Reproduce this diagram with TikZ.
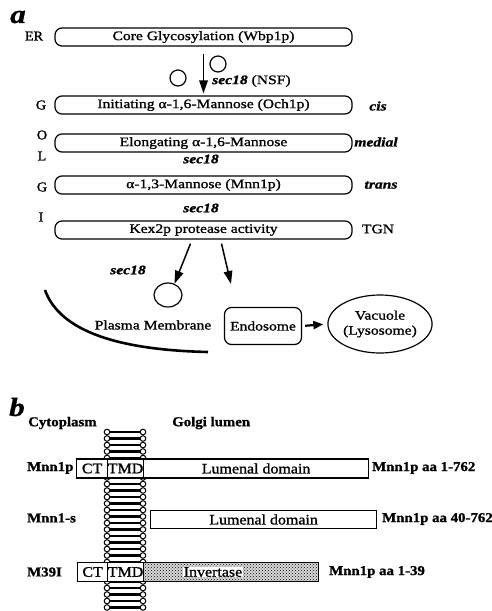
\documentclass[tikz,border=0pt]{standalone}
\usepackage{fontspec}
\setmainfont{Liberation Serif}
\newfontfamily\figfa[FakeStretch=1.2,FakeBold=1.2]{Liberation Serif}
\newfontfamily\figfb[FakeStretch=1.1,FakeBold=1.2]{Liberation Serif}
\newfontfamily\figfc[FakeStretch=1.05,FakeBold=1.4]{Liberation Serif}
\usetikzlibrary{arrows.meta,patterns,calc,shapes.geometric}
\begin{document}
\begin{tikzpicture}[x=1pt,y=-1pt,
  gbox/.style={draw,line width=1.2pt,rounded corners=7pt,minimum width=297pt,minimum height=18pt,inner sep=0pt,font=\fontsize{13}{15}\figfa},
  txa/.style={inner sep=0pt,font=\fontsize{13}{15}\figfa},
  side/.style={inner sep=0pt,font=\fontsize{13.5}{15}\figfc},
  bit/.style={inner sep=0pt,font=\fontsize{13}{15}\figfa\bfseries\itshape},
  big/.style={inner sep=0pt,font=\fontsize{26}{26}\figfa\bfseries\itshape},
  arr/.style={line width=1.5pt,-{Triangle[length=13pt,width=8.5pt]}},
  dom/.style={draw,fill=white,line width=1.2pt,minimum height=19pt,inner sep=0pt,anchor=west,font=\fontsize{14.5}{16}\figfb},
  txb/.style={inner sep=0pt,font=\fontsize{14.5}{16}\figfb},
  bxb/.style={inner sep=0pt,anchor=west,font=\fontsize{13.5}{15}\figfb\bfseries},
]
\useasboundingbox (0,0) rectangle (492,611);
% ---------- part a ----------
\node[big] (la) at (18,17) {a};
\node[gbox] (er) at (203.5,37) {Core Glycosylation (Wbp1p)};
\node[gbox] (g1) at (203.5,105) {Initiating α-1,6-Mannose (Och1p)};
\node[gbox] (g2) at (203.5,143) {Elongating α-1,6-Mannose};
\node[gbox] (g3) at (203.5,185) {α-1,3-Mannose (Mnn1p)};
\node[gbox] (g4) at (203.5,230) {Kex2p protease activity};
\node[side] (ler) at (34,36) {ER};
\node[side] (lg1) at (41,105) {G};
\node[side] (lo) at (42,135) {O};
\node[side] (ll) at (42,156) {L};
\node[side] (lg2) at (42,187) {G};
\node[side] (li) at (41,217) {I};
\node[bit] (cis) at (378,106) {cis};
\node[bit] (medial) at (376,142) {medial};
\node[bit] (trans) at (381,185) {trans};
\node[txa] (tgn) at (378,229) {TGN};
\node[bit] (s2) at (201,159) {sec18};
\node[bit] (s3) at (201,208) {sec18};
\node[txa,anchor=west] (s1) at (212,81) {\bfseries\itshape sec18\normalfont\figfa{} (NSF)};
\node[circle,draw,line width=1.2pt,minimum size=16pt,inner sep=0pt] (v1) at (218,64) {};
\node[circle,draw,line width=1.2pt,minimum size=16pt,inner sep=0pt] (v2) at (178,78) {};
\draw[arr] ($(er.south)+(0,7)$) -- ($(g1.north)+(0,-2)$);
% lower part
\draw[line width=2.6pt] (45,290) .. controls (60,332) and (120,350) .. (208,352);
\node[ellipse,draw,line width=1.2pt,minimum width=28pt,minimum height=24pt,inner sep=0pt] (ves) at (168,295) {};
\node[txa] (pm) at (153,325) {Plasma Membrane};
\node[bit] (s4) at (128,270) {sec18};
\node[draw,line width=1.2pt,rounded corners=7pt,minimum width=77pt,minimum height=37pt,inner sep=0pt,font=\fontsize{13}{15}\figfa] (endo) at (263,326) {Endosome};
\node[ellipse,draw,line width=1.2pt,minimum width=90pt,minimum height=58pt,inner sep=0pt,align=center,font=\fontsize{13}{15}\figfa] (vac) at (380,324) {Vacuole\\(Lysosome)};
\coordinate (e2) at (231,284);
\draw[arr] ($(g4.south)+(-13,4)$) -- (ves.60);
\draw[arr] ($(g4.south)+(18,4)$) -- (e2);
\draw[line width=2.2pt,-{Triangle[length=10pt,width=8pt]},shorten <=3pt,shorten >=4pt] (endo.east) -- (vac.west);
% ---------- part b ----------
\node[big] (lb) at (17,407) {b};
\node[bxb] (cyto) at (28,423) {Cytoplasm};
\node[bxb] (lumen) at (172,423) {Golgi lumen};
\foreach \i in {0,...,27}{
  \draw[line width=2.2pt] (109,432+6.5*\i) -- (141,432+6.5*\i);
  \draw[line width=1pt,fill=white] (107,432+6.5*\i) circle (2.8pt);
  \draw[line width=1pt,fill=white] (143,432+6.5*\i) circle (2.8pt);
}
\node[dom,minimum width=31pt] (ct1) at (76,468.5) {CT};
\node[dom,minimum width=36pt] (tmd1) at (107,468.5) {TMD};
\node[dom,minimum width=225pt] (lum1) at (143,468.5) {Lumenal domain};
\node[bxb] (m1) at (27,468) {Mnn1p};
\node[bxb] (aa1) at (372,468) {Mnn1p aa 1-762};
\node[dom,minimum width=226pt,minimum height=18pt] (lum2) at (150,519.5) {Lumenal domain};
\node[bxb] (m2) at (27,518) {Mnn1-s};
\node[bxb] (aa2) at (382,519) {Mnn1p aa 40-762};
\node[dom,minimum width=30pt] (ct3) at (77,572) {CT};
\node[dom,minimum width=36pt] (tmd3) at (107,572) {TMD};
\node[dom,minimum width=175pt,preaction={fill=black!15},pattern=crosshatch dots,pattern color=black] (inv) at (143,572) {};
\node[txb,fill=white,inner sep=0.5pt] (invt) at (213,572) {Invertase};
\node[bxb] (m3) at (27,572) {M39I};
\node[bxb] (aa3) at (329,572) {Mnn1p aa 1-39};
\end{tikzpicture}
\end{document}
